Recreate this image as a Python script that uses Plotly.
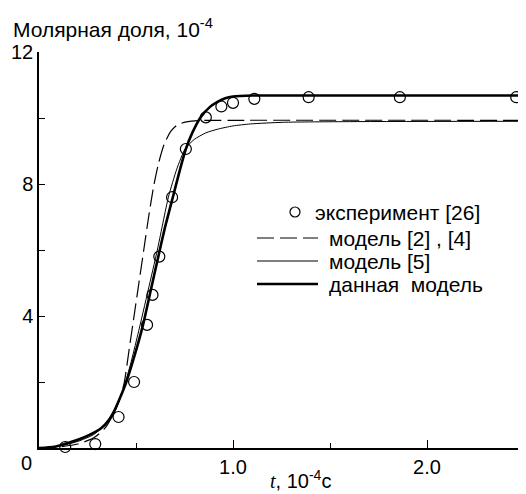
import plotly.graph_objects as go

# Experimental points [26]
exp_t = [0.135, 0.29, 0.41, 0.49, 0.557, 0.585, 0.62, 0.686, 0.757, 0.86, 0.94, 1.0, 1.11, 1.39, 1.86, 2.46]
exp_y = [0.03, 0.12, 0.94, 2.0, 3.73, 4.64, 5.8, 7.6, 9.06, 10.02, 10.35, 10.46, 10.58, 10.63, 10.63, 10.63]

# Model [2], [4] (dashed)
m24_t = [0.0, 0.1, 0.2, 0.28, 0.34, 0.39, 0.42, 0.44, 0.465, 0.49, 0.515, 0.54, 0.565, 0.59, 0.615, 0.645, 0.68, 0.715, 0.76, 0.82, 1.0, 2.5]
m24_y = [0.0, 0.03, 0.12, 0.3, 0.6, 1.1, 1.55, 2.0, 3.0, 4.0, 5.0, 6.0, 7.0, 7.9, 8.6, 9.2, 9.6, 9.8, 9.88, 9.92, 9.93, 9.93]

# Model [5] (thin)
m5_t = [0.0, 0.1, 0.2, 0.28, 0.34, 0.39, 0.43, 0.47, 0.51, 0.563, 0.61, 0.667, 0.71, 0.753, 0.80, 0.86, 0.92, 1.0, 1.09, 1.26, 1.6, 2.5]
m5_y = [0.0, 0.05, 0.2, 0.4, 0.7, 1.1, 1.7, 2.5, 3.45, 4.79, 6.0, 7.6, 8.45, 9.06, 9.35, 9.55, 9.66, 9.76, 9.82, 9.87, 9.89, 9.9]

# Present model (thick)
cur_t = [0.0, 0.08, 0.13, 0.2, 0.26, 0.32, 0.36, 0.39, 0.42, 0.45, 0.49, 0.535, 0.575, 0.615, 0.65, 0.69, 0.725, 0.757, 0.79, 0.835, 0.88, 0.92, 0.96, 1.0, 1.1, 2.5]
cur_y = [0.0, 0.04, 0.12, 0.25, 0.4, 0.6, 0.85, 1.15, 1.55, 2.0, 2.75, 3.7, 4.75, 5.8, 6.7, 7.6, 8.4, 9.06, 9.55, 10.04, 10.33, 10.49, 10.6, 10.65, 10.68, 10.68]

x_ticks = [1.0, 2.0]
x_tick_text = ["1.0", "2.0"]
y_ticks = [4, 8, 12]
y_tick_text = ["4", "8", "12"]

legend_labels = ["эксперимент [26]", "модель [2] , [4]", "модель [5]", "данная  модель"]

FONT = "Liberation Sans, Arial, sans-serif"
FS = 20
FS_TXT = 21

fig = go.Figure()
fig.add_trace(go.Scatter(x=m24_t, y=m24_y, mode="lines", line=dict(color="black", width=1.2, dash="17px,6px", shape="spline", smoothing=0.6), cliponaxis=False, showlegend=False))
fig.add_trace(go.Scatter(x=m5_t, y=m5_y, mode="lines", line=dict(color="black", width=1.0, shape="spline", smoothing=0.6), cliponaxis=False, showlegend=False))
fig.add_trace(go.Scatter(x=cur_t, y=cur_y, mode="lines", line=dict(color="black", width=2.6, shape="spline", smoothing=0.6), cliponaxis=False, showlegend=False))
fig.add_trace(go.Scatter(x=exp_t, y=exp_y, mode="markers", marker=dict(symbol="circle-open", size=11, color="black", line=dict(width=1.2, color="black")), cliponaxis=False, showlegend=False))

# Manual legend (data coordinates derived from page pixels)
px_per_x = 194.0
px_per_y = 33.0
def dx(p):
    return (p - 39) / px_per_x
def dy(p):
    return (448 - p) / px_per_y

rows = [212, 238, 261, 284]
fig.add_trace(go.Scatter(x=[dx(295)], y=[dy(rows[0])], mode="markers", marker=dict(symbol="circle-open", size=10, color="black", line=dict(width=1.2, color="black")), showlegend=False, hoverinfo="skip"))
fig.add_annotation(x=dx(313), y=dy(rows[0]), text=legend_labels[0], showarrow=False, xanchor="left", yanchor="middle", font=dict(family=FONT, size=FS_TXT, color="black"))
key_styles = [dict(width=1.2, dash="17px,6px"), dict(width=1.0, dash="solid"), dict(width=2.6, dash="solid")]
for i, st in enumerate(key_styles):
    r = rows[i + 1]
    fig.add_shape(type="line", x0=dx(257), x1=dx(318), y0=dy(r), y1=dy(r), xref="x", yref="y", line=dict(color="black", **st))
    fig.add_annotation(x=dx(327), y=dy(r), text=legend_labels[i + 1], showarrow=False, xanchor="left", yanchor="middle", font=dict(family=FONT, size=FS_TXT, color="black"))

# Axis titles and origin label
fig.add_annotation(x=0, y=12, text="Молярная доля, 10<sup>-4</sup>", showarrow=False, xanchor="left", yanchor="middle", xshift=-28, yshift=24, font=dict(family=FONT, size=FS_TXT, color="black"))
fig.add_annotation(x=dx(300), y=0, text="<span style=\"font-family:'Liberation Serif'\"><i>t</i></span>, 10<sup>-4</sup>с", showarrow=False, xanchor="center", yanchor="middle", yshift=-31, font=dict(family=FONT, size=FS, color="black"))
fig.add_annotation(x=0, y=0, text="0", showarrow=False, xanchor="center", yanchor="middle", xshift=-13, yshift=-15, font=dict(family=FONT, size=FS, color="black"))

fig.update_xaxes(range=[0, 2.5], showline=True, linecolor="black", linewidth=1.5, showgrid=False, zeroline=False,
                 ticks="inside", ticklen=8, tickwidth=1.2, tickcolor="black", tickvals=x_ticks, ticktext=x_tick_text,
                 tickfont=dict(family=FONT, size=FS, color="black"),
                 minor=dict(tickvals=[0.5, 1.5, 2.5], ticks="inside", ticklen=5, tickwidth=1.2, tickcolor="black", showgrid=False))
fig.update_yaxes(range=[0, 12], showline=True, linecolor="black", linewidth=1.5, showgrid=False, zeroline=False,
                 ticks="inside", ticklen=6, tickwidth=1.2, tickcolor="black", tickvals=y_ticks, ticktext=y_tick_text,
                 tickfont=dict(family=FONT, size=FS, color="black"),
                 minor=dict(tickvals=[2, 6, 10], ticks="inside", ticklen=6, tickwidth=1.2, tickcolor="black", showgrid=False))

# Page body has an 8px margin: size the figure so the plot lands at the reference position
fig.update_layout(width=518, height=486, margin=dict(l=31, r=2, t=44, b=46), plot_bgcolor="white", paper_bgcolor="white",
                  font=dict(family=FONT, size=FS, color="black"), showlegend=False)

fig.write_html("out.html")
